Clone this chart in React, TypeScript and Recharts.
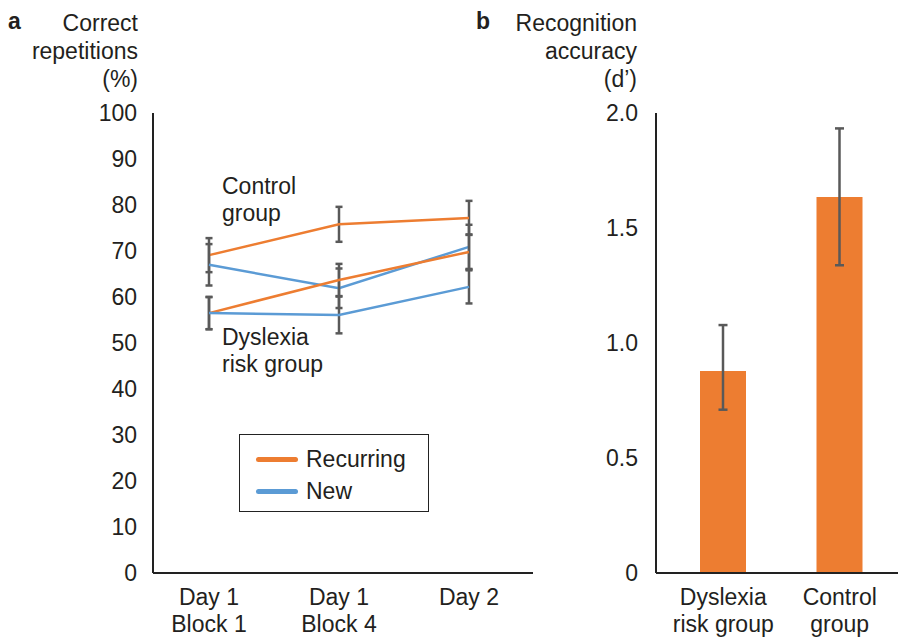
import React from 'react';
import { LineChart, Line, XAxis, YAxis, ErrorBar, BarChart, Bar, Legend } from 'recharts';

// ---------- Panel a data ----------
const sessions = ['Day 1\nBlock 1', 'Day 1\nBlock 4', 'Day 2'];
const controlRecurring = [69.1, 75.8, 77.2];
const controlRecurringErr = [3.7, 3.8, 3.7];
const controlNew = [67.0, 61.9, 70.9];
const controlNewErr = [4.5, 4.3, 4.8];
const dyslexiaRecurring = [56.5, 63.7, 69.8];
const dyslexiaRecurringErr = [3.5, 3.5, 3.8];
const dyslexiaNew = [56.5, 56.1, 62.2];
const dyslexiaNewErr = [3.5, 4.0, 3.6];
const repetitionTicks = [0, 10, 20, 30, 40, 50, 60, 70, 80, 90, 100];
const legendItems = [
  { label: 'Recurring', color: '#ED7D31' },
  { label: 'New', color: '#5B9BD5' },
];

// ---------- Panel b data ----------
const groups = ['Dyslexia\nrisk group', 'Control\ngroup'];
const recognitionDPrime = [0.878, 1.635];
const recognitionErr = [
  [0.168, 0.2],
  [0.297, 0.298],
];
const dPrimeTicks = [0, 0.5, 1, 1.5, 2];

const ORANGE = '#ED7D31';
const BLUE = '#5B9BD5';
const ERR = '#595959';
const AXIS = '#222222';
const TEXT = '#231F20';
const FONT = '"Liberation Sans", Arial, Helvetica, sans-serif';
const FS = 23;

const lineData = sessions.map((s, i) => ({
  session: s,
  ctrlRec: controlRecurring[i],
  ctrlRecErr: controlRecurringErr[i],
  ctrlNew: controlNew[i],
  ctrlNewErr: controlNewErr[i],
  dysRec: dyslexiaRecurring[i],
  dysRecErr: dyslexiaRecurringErr[i],
  dysNew: dyslexiaNew[i],
  dysNewErr: dyslexiaNewErr[i],
}));

const barData = groups.map((g, i) => ({
  group: g,
  dprime: recognitionDPrime[i],
  err: recognitionErr[i],
}));

const MultiLineTick = (props: any) => {
  const { x, y, payload } = props;
  const lines = String(payload.value).split('\n');
  return (
    <text x={x} y={y} textAnchor="middle" fill={TEXT} fontSize={FS} style={{ fontFamily: FONT }}>
      {lines.map((l, i) => (
        <tspan key={i} x={x} y={y + 32 + i * 27}>
          {l}
        </tspan>
      ))}
    </text>
  );
};

const LegendBox = () => (
  <div
    style={{
      position: 'relative',
      width: 190,
      height: 78,
      border: '1.5px solid #222',
      boxSizing: 'border-box',
      background: '#fff',
      fontFamily: FONT,
      fontSize: FS,
      color: TEXT,
    }}
  >
    {legendItems.map((it, i) => (
      <div
        key={it.label}
        style={{
          position: 'absolute',
          left: 16,
          top: 24 + i * 32.4 - 14,
          height: 28,
          display: 'flex',
          alignItems: 'center',
          whiteSpace: 'nowrap',
        }}
      >
        <span
          style={{
            display: 'inline-block',
            width: 42,
            height: 5,
            borderRadius: 2.5,
            background: it.color,
            marginRight: 8,
          }}
        />
        <span style={{ lineHeight: '28px' }}>{it.label}</span>
      </div>
    ))}
  </div>
);

const tickStyle = { fill: TEXT, fontSize: FS, fontFamily: FONT };
const txt = { fontFamily: FONT };

export default function App() {
  return (
    <div
      style={{
        position: 'absolute',
        left: 0,
        top: 0,
        width: 898,
        height: 637,
        background: '#fff',
        overflow: 'hidden',
        fontFamily: FONT,
      }}
    >
      <div style={{ position: 'absolute', left: 0, top: 0 }}>
        <LineChart width={560} height={637} data={lineData} margin={{ top: 113, right: 27, bottom: 0, left: 0 }}>
          <XAxis
            dataKey="session"
            axisLine={{ stroke: AXIS, strokeWidth: 2 }}
            tickLine={false}
            tickSize={0}
            tickMargin={0}
            height={64}
            padding={{ left: 56, right: 64 }}
            interval={0}
            tick={<MultiLineTick />}
          />
          <YAxis
            domain={[0, 100]}
            ticks={repetitionTicks}
            width={153}
            axisLine={{ stroke: AXIS, strokeWidth: 2 }}
            tickLine={false}
            tickSize={0}
            tickMargin={16}
            tick={tickStyle}
            interval={0}
          />
          <Legend
            content={<LegendBox />}
            layout="horizontal"
            verticalAlign="middle"
            align="center"
            wrapperStyle={{ left: 239, top: 434, width: 190, height: 78 }}
          />
          <Line type="linear" dataKey="ctrlRec" stroke={ORANGE} strokeWidth={2.5} dot={false} isAnimationActive={false} legendType="none">
            <ErrorBar dataKey="ctrlRecErr" width={3.5} strokeWidth={2.5} stroke={ERR} direction="y" />
          </Line>
          <Line type="linear" dataKey="ctrlNew" stroke={BLUE} strokeWidth={2.5} dot={false} isAnimationActive={false} legendType="none">
            <ErrorBar dataKey="ctrlNewErr" width={3.5} strokeWidth={2.5} stroke={ERR} direction="y" />
          </Line>
          <Line type="linear" dataKey="dysRec" stroke={ORANGE} strokeWidth={2.5} dot={false} isAnimationActive={false} legendType="none">
            <ErrorBar dataKey="dysRecErr" width={3.5} strokeWidth={2.5} stroke={ERR} direction="y" />
          </Line>
          <Line type="linear" dataKey="dysNew" stroke={BLUE} strokeWidth={2.5} dot={false} isAnimationActive={false} legendType="none">
            <ErrorBar dataKey="dysNewErr" width={3.5} strokeWidth={2.5} stroke={ERR} direction="y" />
          </Line>
        </LineChart>
      </div>

      <div style={{ position: 'absolute', left: 480, top: 0 }}>
        <BarChart width={418} height={637} data={barData} margin={{ top: 113, right: 0, bottom: 0, left: 0 }}>
          <XAxis
            dataKey="group"
            axisLine={{ stroke: AXIS, strokeWidth: 2 }}
            tickLine={false}
            tickSize={0}
            tickMargin={0}
            height={64}
            padding={{ left: 9, right: 0 }}
            interval={0}
            tick={<MultiLineTick />}
          />
          <YAxis
            domain={[0, 2]}
            ticks={dPrimeTicks}
            width={176}
            axisLine={{ stroke: AXIS, strokeWidth: 2 }}
            tickLine={false}
            tickSize={0}
            tickMargin={18}
            tick={tickStyle}
            interval={0}
            tickFormatter={(v: number) => (v === 0 ? '0' : v.toFixed(1))}
          />
          <Bar dataKey="dprime" fill={ORANGE} barSize={46} isAnimationActive={false}>
            <ErrorBar dataKey="err" width={4.5} strokeWidth={2.5} stroke={ERR} direction="y" />
          </Bar>
        </BarChart>
      </div>

      <svg
        width={898}
        height={637}
        style={{ position: 'absolute', left: 0, top: 0, pointerEvents: 'none' }}
      >
        <g fill={TEXT} fontSize={FS} style={txt}>
          <text x={8} y={29} fontWeight="bold" style={txt}>a</text>
          <text x={138} y={31} textAnchor="end" style={txt}>Correct</text>
          <text x={138} y={59} textAnchor="end" style={txt}>repetitions</text>
          <text x={138} y={87} textAnchor="end" style={txt}>(%)</text>

          <text x={476} y={29} fontWeight="bold" style={txt}>b</text>
          <text x={637} y={31} textAnchor="end" style={txt}>Recognition</text>
          <text x={637} y={59} textAnchor="end" style={txt}>accuracy</text>
          <text x={637} y={87} textAnchor="end" style={txt}>(d’)</text>

          <text x={222} y={194} style={txt}>Control</text>
          <text x={222} y={221} style={txt}>group</text>
          <text x={222} y={345} style={txt}>Dyslexia</text>
          <text x={222} y={372} style={txt}>risk group</text>
        </g>
      </svg>
    </div>
  );
}
